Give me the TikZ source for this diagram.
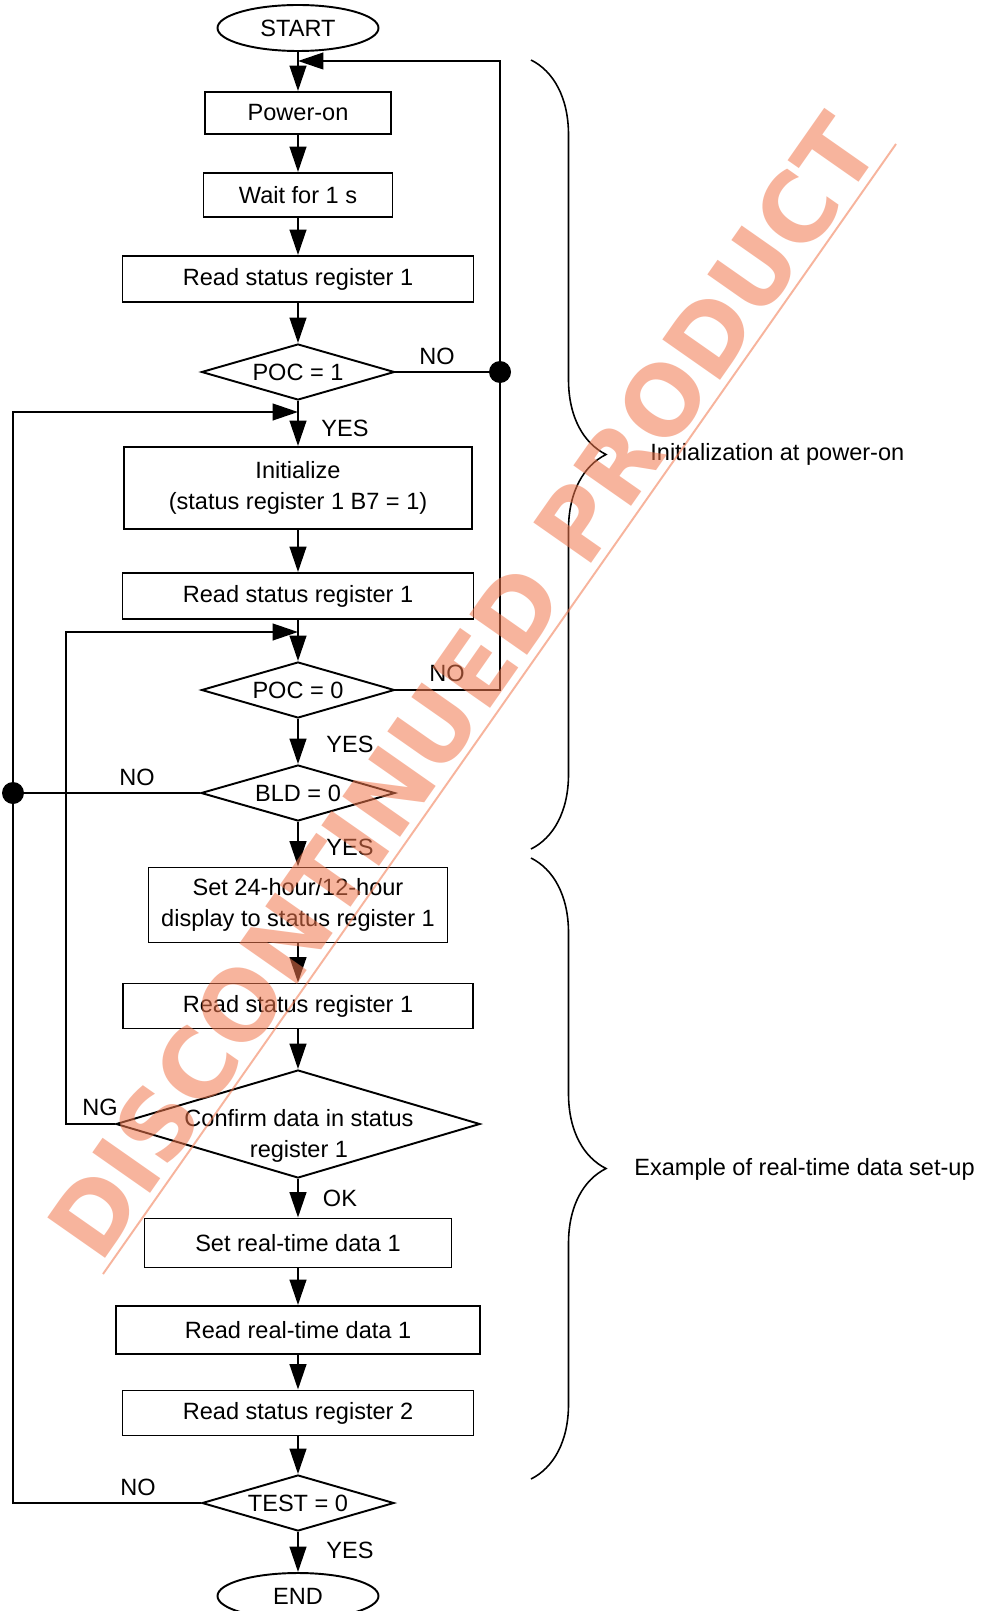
\documentclass[tikz,border=0pt]{standalone}
\usepackage{fontspec}
\setmainfont{Liberation Sans}
\newfontfamily\wmfont{DejaVu Sans}
\usepackage{tikz}
\usetikzlibrary{arrows.meta,shapes.geometric,decorations.pathreplacing}
\definecolor{wmSalmon}{RGB}{242,119,77}

\begin{document}
\begin{tikzpicture}[x=2cm,y=2cm,
  every node/.style={inner sep=0pt, font=\fontsize{13.4}{17.9}\selectfont},
  box/.style={draw, line width=1.1pt, rectangle, align=center},
  term/.style={draw, line width=1.1pt, ellipse, minimum width=3.22cm, minimum height=0.92cm},
  dec/.style={draw, line width=1.1pt, diamond, aspect=3.4, minimum width=3.86cm, minimum height=1.12cm},
  flow/.style={line width=1.3pt, -{Triangle[length=14.5pt,width=9.5pt]}},
  wire/.style={line width=1.3pt},
  dot/.style={circle, fill, minimum size=0.44cm},
  curly/.style={line width=0.9pt, decorate, decoration={brace, amplitude=1.5cm}},
  wmark/.style={anchor=base, rotate=55, xscale=0.985, text=wmSalmon, text opacity=0.55,
    font=\wmfont\bfseries\fontsize{55}{60}\selectfont}]
\fill[white] (0,0) rectangle (9.84,-16.11);
\useasboundingbox (0,0) rectangle (9.84,-16.11);

% main column
\node[term] (start) at (2.98,-0.28) {START};
\node[box, minimum width=3.72cm, minimum height=0.84cm] (pwr) at (2.98,-1.13) {Power-on};
\node[box, minimum width=3.78cm, minimum height=0.88cm] (wait) at (2.98,-1.95) {Wait for 1 s};
\node[box, minimum width=7.02cm, minimum height=0.92cm] (rsA) at (2.98,-2.79) {Read status register 1};
\node[dec] (poc1) at (2.98,-3.72) {POC = 1};
\node[box, minimum width=6.96cm, minimum height=1.64cm] (init) at (2.98,-4.88) {Initialize\\(status register 1 B7 = 1)};
\node[box, minimum width=7.02cm, minimum height=0.92cm] (rsB) at (2.98,-5.96) {Read status register 1};
\node[dec] (poc0) at (2.98,-6.90) {POC = 0};
\node[dec, minimum width=3.88cm] (bld) at (2.98,-7.93) {BLD = 0};
\node[box, minimum width=5.98cm, minimum height=1.50cm] (setdisp) at (2.98,-9.05) {Set 24-hour/12-hour\\display to status register 1};
\node[box, minimum width=7.00cm, minimum height=0.90cm] (rsC) at (2.98,-10.06) {Read status register 1};
\node[dec, minimum width=7.28cm, minimum height=2.16cm] (conf) at (2.98,-11.24) {};
\node[align=center] (conftxt) at (2.99,-11.36) {Confirm data in status\\register 1};
\node[box, minimum width=6.14cm, minimum height=0.98cm] (setrt) at (2.98,-12.43) {Set real-time data 1};
\node[box, minimum width=7.28cm, minimum height=0.96cm] (readrt) at (2.98,-13.30) {Read real-time data 1};
\node[box, minimum width=7.02cm, minimum height=0.90cm] (rs2) at (2.98,-14.13) {Read status register 2};
\node[dec, minimum width=3.84cm] (test) at (2.98,-15.03) {TEST = 0};
\node[term] (finish) at (2.98,-15.96) {END};

% joints
\coordinate (j1) at (2.98,-0.61);
\coordinate (j2) at (2.98,-4.12);
\coordinate (j3) at (2.98,-6.32);
\coordinate (ng) at (0.66,-11.24);
\node[dot] (d1) at (5.00,-3.72) {};
\node[dot] (d2) at (0.13,-7.93) {};

\foreach \a/\b in {start/pwr,pwr/wait,wait/rsA,rsA/poc1,poc1/init,init/rsB,rsB/poc0,
  poc0/bld,bld/setdisp,setdisp/rsC,rsC/conf,conf/setrt,setrt/readrt,readrt/rs2,rs2/test,test/finish}{
  \draw[flow] (\a) -- (\b);
}

% loops back
\draw[wire] (poc1.east) -- (d1.center);
\draw[flow] (poc0.east) -| (d1.center) |- (j1);
\draw[wire] (bld.west) -- (d2.center);
\draw[flow] (test.west) -| (d2.center) |- (j2);
\draw[flow] (conf.west) -- (ng) |- (j3);

% branch labels
\node (no1) at (4.37,-3.56) {NO};
\node (yes1) at (3.45,-4.28) {YES};
\node (no2) at (4.47,-6.73) {NO};
\node (yes2) at (3.50,-7.44) {YES};
\node (no3) at (1.37,-7.77) {NO};
\node (yes3) at (3.50,-8.47) {YES};
\node (ngl) at (1.00,-11.07) {NG};
\node (okl) at (3.40,-11.98) {OK};
\node (no4) at (1.38,-14.87) {NO};
\node (yes4) at (3.50,-15.50) {YES};

% braces
\draw[curly] (5.31,-0.60) -- (5.31,-8.49);
\draw[curly] (5.31,-8.58) -- (5.31,-14.79);
\node[anchor=west] (initlbl) at (6.50,-4.54) {Initialization at power-on};
\node[anchor=west] (rtlbl) at (6.34,-11.69) {Example of real-time data set-up};

% watermark
\node[wmark] (wm) at (4.915,-7.07) {DISCONTINUED PRODUCT};
\draw[wmSalmon, opacity=0.55, line width=1.1pt] (1.03,-12.74) -- (8.96,-1.44);
\end{tikzpicture}
\end{document}
